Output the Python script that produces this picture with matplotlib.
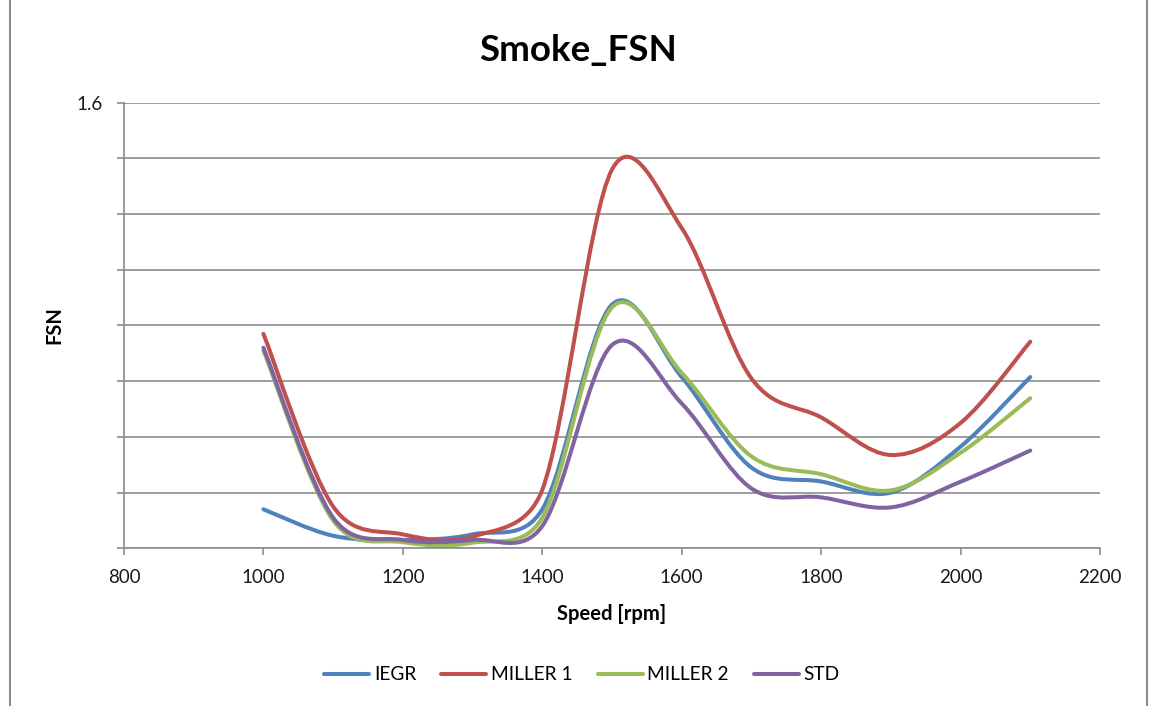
import matplotlib
matplotlib.use("Agg")
import matplotlib.pyplot as plt
from matplotlib.path import Path
from matplotlib.patches import PathPatch
from matplotlib.lines import Line2D
import numpy as np

plt.rcParams['font.family'] = ['Lato', 'DejaVu Sans']

# Engine speed [rpm]
speed = [1000, 1100, 1200, 1300, 1400, 1500, 1600, 1700, 1800, 1900, 2000, 2100]

# Filter smoke number per calibration
iegr = [0.14, 0.045, 0.03, 0.05, 0.14, 0.875, 0.615, 0.29, 0.24, 0.20, 0.365, 0.615]
miller1 = [0.77, 0.15, 0.05, 0.042, 0.21, 1.36, 1.15, 0.61, 0.47, 0.335, 0.45, 0.742]
miller2 = [0.71, 0.10, 0.022, 0.02, 0.11, 0.865, 0.63, 0.33, 0.266, 0.208, 0.343, 0.539]
std = [0.72, 0.11, 0.03, 0.03, 0.08, 0.73, 0.52, 0.215, 0.183, 0.147, 0.239, 0.351]

series_names = ['IEGR', 'MILLER 1', 'MILLER 2', 'STD']
series_values = [iegr, miller1, miller2, std]
series_colors = ['#4F81BD', '#C0504D', '#9BBB59', '#8064A2']

x_ticks = [800, 1000, 1200, 1400, 1600, 1800, 2000, 2200]
y_ticks = [0.0, 0.2, 0.4, 0.6, 0.8, 1.0, 1.2, 1.4, 1.6]
y_ticklabels = ['', '', '', '', '', '', '', '', '1.6']


def smooth_path(ax, xs, ys):
    """Smoothed line as cubic Bezier segments, spreadsheet-style.

    Tangents follow neighbouring points (tension 1/6) and are shortened so a
    control handle never exceeds half of its segment, measured on screen.
    """
    pts = ax.transData.transform(np.column_stack([xs, ys]).astype(float))
    n = len(pts)
    verts = [pts[0]]
    codes = [Path.MOVETO]
    for i in range(n - 1):
        p0 = pts[i - 1] if i > 0 else pts[i]
        p1 = pts[i]
        p2 = pts[i + 1]
        p3 = pts[i + 2] if i + 2 < n else pts[i + 1]
        d12 = np.hypot(*(p2 - p1))
        d02 = np.hypot(*(p2 - p0))
        d13 = np.hypot(*(p3 - p1))
        f = 1.0 / 6.0
        g = 1.0 / 6.0
        if d02 * f > d12 / 2:
            f = d12 / 2 / d02
        if d13 * g > d12 / 2:
            g = d12 / 2 / d13
        c1 = p1 + (p2 - p0) * f
        c2 = p2 - (p3 - p1) * g
        verts.extend([c1, c2, p2])
        codes.extend([Path.CURVE4] * 3)
    data_verts = ax.transData.inverted().transform(np.array(verts))
    return Path(data_verts, codes)


fig = plt.figure(figsize=(11.5, 7.06), dpi=100)
ax = fig.add_axes([124 / 1150, 1 - 548.3 / 706, (1100 - 124) / 1150, (548.3 - 102.7) / 706])

ax.set_xlim(800, 2200)
ax.set_ylim(0, 1.6)

grid_color = '#8c8c8c'
ax.set_yticks(y_ticks)
ax.set_yticklabels(y_ticklabels)
ax.set_xticks(x_ticks)
ax.yaxis.grid(True, color=grid_color, linewidth=1.2)
ax.set_axisbelow(True)

for side in ['top', 'right']:
    ax.spines[side].set_visible(False)
for side in ['left', 'bottom']:
    ax.spines[side].set_color(grid_color)
    ax.spines[side].set_linewidth(1.2)

ax.tick_params(axis='both', direction='out', length=5, width=1.2, color=grid_color,
               labelsize=13.5, labelcolor='#1a1a1a')
ax.tick_params(axis='x', pad=10)
ax.tick_params(axis='y', pad=10)

handles = []
for name, vals, col in zip(series_names, series_values, series_colors):
    patch = PathPatch(smooth_path(ax, speed, vals), facecolor='none', edgecolor=col,
                      linewidth=2.9, capstyle='round', joinstyle='round')
    ax.add_patch(patch)
    handles.append(Line2D([], [], color=col, linewidth=2.9, solid_capstyle='round', label=name))

ax.set_xlabel('Speed [rpm]', fontsize=14.5, fontweight='bold')
ax.set_ylabel('FSN', fontsize=14.5, fontweight='bold')
ax.xaxis.set_label_coords(0.5, (548.3 - 614) / 445.6)
ax.xaxis.label.set_va('center')
ax.yaxis.set_label_coords((54 - 124) / 976, 0.5)
ax.yaxis.label.set_va('center')

fig.text(578 / 1150, 1 - 51 / 706, 'Smoke_FSN', ha='center', va='center',
         fontsize=26.5, fontweight='bold')

fig.legend(handles=handles, loc='center', bbox_to_anchor=(582 / 1150, 1 - 675 / 706),
           ncol=4, frameon=False, fontsize=13.8, handlelength=2.35, handletextpad=0.25,
           columnspacing=1.3)

# chart area border
for xpix in (10, 1147):
    fig.add_artist(Line2D([xpix / 1150, xpix / 1150], [0, 1], transform=fig.transFigure,
                          color='#8c8c8c', linewidth=1.5))

fig.savefig('out.png', dpi=100)
